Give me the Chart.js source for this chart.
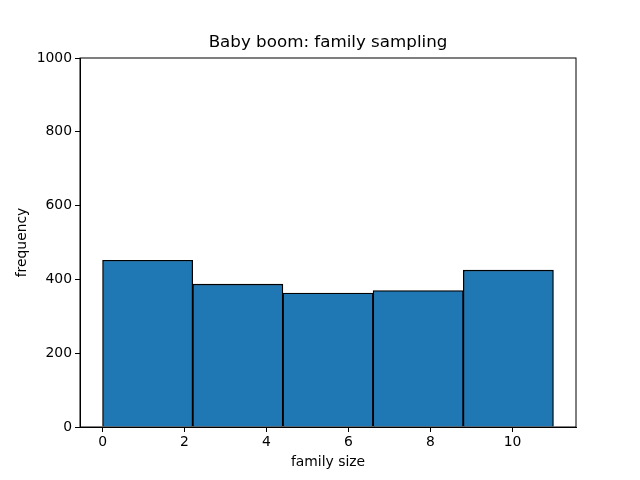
<!DOCTYPE html>
<html>
<head>
<meta charset="utf-8">
<script src="https://cdn.jsdelivr.net/npm/chart.js@4"></script>
<style>
  html, body { margin: 0; padding: 0; background: #fff; }
  #wrap { width: 640px; height: 480px; }
</style>
</head>
<body>
<div id="wrap"><canvas id="histChart" width="640" height="480"></canvas></div>
<script>
// histogram bins (family size) and counts
const binCenters = [1.1, 3.3, 5.5, 7.7, 9.9];
const binCounts = [452, 387, 363, 370, 425];
const xTicks = [0, 2, 4, 6, 8, 10];
const yTicks = [0, 200, 400, 600, 800, 1000];
const chartTitle = 'Baby boom: family sampling';

const FONT = 'DejaVu Sans';
const X_MIN = -0.55, X_MAX = 11.55;

// top/right spines + title centred over the axes, like matplotlib
const boxPlugin = {
  id: 'box',
  afterDraw(chart) {
    const a = chart.chartArea;
    const ctx = chart.ctx;
    ctx.save();
    ctx.strokeStyle = '#000';
    ctx.lineWidth = 1;
    ctx.strokeRect(a.left, a.top, a.right - a.left, a.bottom - a.top);
    ctx.fillStyle = '#000';
    ctx.font = '16.7px "' + FONT + '"';
    ctx.textAlign = 'center';
    ctx.textBaseline = 'middle';
    ctx.fillText(chartTitle, (a.left + a.right) / 2, 43);
    ctx.restore();
  }
};

function drawHist() {
  const ctx = document.getElementById('histChart').getContext('2d');
  new Chart(ctx, {
    type: 'bar',
    data: {
      datasets: [{
        xAxisID: 'xb',
        data: binCenters.map((x, i) => ({ x: x, y: binCounts[i] })),
        backgroundColor: '#1f77b4',
        borderColor: '#000',
        borderWidth: 1.3,
        barPercentage: 1,
        categoryPercentage: 1
      }]
    },
    options: {
      responsive: false,
      animation: false,
      layout: { padding: { left: 0, right: 64, top: 58, bottom: 0 } },
      plugins: {
        legend: { display: false },
        tooltip: { enabled: false },
        title: { display: false }
      },
      scales: {
        // hidden axis that carries the bars, so tick spacing doesn't shrink them
        xb: {
          type: 'linear',
          display: false,
          offset: false,
          min: X_MIN,
          max: X_MAX,
          afterBuildTicks(scale) { scale.ticks = [{ value: X_MIN }, { value: X_MAX }]; }
        },
        x: {
          type: 'linear',
          offset: false,
          min: X_MIN,
          max: X_MAX,
          afterBuildTicks(scale) { scale.ticks = xTicks.map(v => ({ value: v })); },
          afterFit(scale) { scale.height = 53; },
          grid: { display: true, offset: false, drawOnChartArea: false, drawTicks: true, tickLength: 5, color: '#000' },
          border: { display: true, color: '#000' },
          ticks: { color: '#000', font: { family: FONT, size: 13.9 }, padding: 2, maxRotation: 0, callback: v => String(v) },
          title: { display: true, text: 'family size', color: '#000', font: { family: FONT, size: 13.9 }, padding: { top: 2, bottom: 9 } }
        },
        y: {
          min: 0,
          max: 1000,
          afterBuildTicks(scale) { scale.ticks = yTicks.map(v => ({ value: v })); },
          afterFit(scale) { scale.width = 80; },
          grid: { display: true, drawOnChartArea: false, drawTicks: true, tickLength: 5, color: '#000' },
          border: { display: true, color: '#000' },
          ticks: { color: '#000', font: { family: FONT, size: 13.9 }, padding: 3, callback: v => String(v) },
          title: { display: true, text: 'frequency', color: '#000', font: { family: FONT, size: 13.9 }, padding: { top: 14, bottom: 8 } }
        }
      }
    },
    plugins: [boxPlugin]
  });
}

drawHist();
</script>
</body>
</html>
